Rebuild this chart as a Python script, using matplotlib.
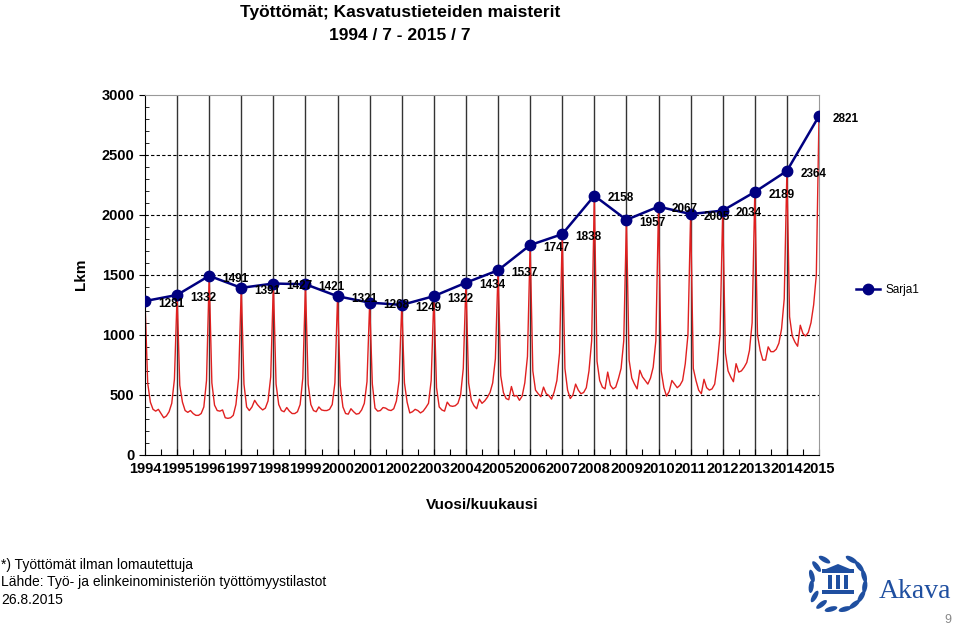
import matplotlib.pyplot as plt
import numpy as np
from matplotlib.patches import Ellipse, Rectangle, Polygon

plt.rcParams['font.family'] = ['Liberation Sans', 'DejaVu Sans']

# July values (blue series, labelled)
vuodet = [str(y) for y in range(1994, 2016)]
heinakuu = [1281, 1332, 1491, 1391, 1427, 1421, 1321, 1268, 1249, 1322, 1434,
            1537, 1747, 1838, 2158, 1957, 2067, 2005, 2034, 2189, 2364, 2821]

# monthly values Aug..Jun for each year between the Julys (red series)
elo_kesa = [
    [600, 440, 380, 365, 380, 345, 310, 325, 360, 430, 630],   # 94-95
    [580, 440, 370, 355, 370, 345, 330, 330, 345, 400, 620],   # 95-96
    [600, 415, 370, 365, 375, 310, 305, 310, 330, 420, 640],   # 96-97
    [590, 400, 370, 400, 455, 420, 395, 375, 390, 450, 650],   # 97-98
    [590, 420, 370, 360, 395, 365, 345, 345, 360, 420, 640],   # 98-99
    [590, 420, 370, 360, 400, 375, 370, 370, 380, 420, 600],   # 99-00
    [580, 400, 345, 340, 385, 360, 340, 345, 375, 430, 610],   # 00-01
    [590, 390, 365, 370, 395, 390, 375, 370, 385, 450, 620],   # 01-02
    [600, 440, 350, 360, 380, 370, 350, 365, 395, 430, 620],   # 02-03
    [560, 400, 375, 365, 440, 410, 405, 410, 430, 500, 720],   # 03-04
    [600, 455, 410, 385, 465, 430, 450, 480, 520, 600, 800],   # 04-05
    [660, 520, 470, 460, 570, 490, 495, 455, 490, 600, 820],   # 05-06
    [700, 540, 510, 485, 565, 510, 495, 465, 525, 620, 850],   # 06-07
    [720, 540, 470, 500, 590, 540, 510, 520, 560, 700, 950],   # 07-08
    [780, 620, 565, 550, 690, 580, 550, 565, 635, 720, 950],   # 08-09
    [790, 640, 590, 550, 705, 650, 620, 590, 640, 730, 950],   # 09-10
    [700, 560, 490, 530, 620, 590, 560, 580, 620, 760, 1000],  # 10-11
    [720, 620, 540, 510, 630, 560, 540, 550, 590, 760, 1000],  # 11-12
    [850, 700, 650, 610, 760, 690, 700, 730, 770, 870, 1100],  # 12-13
    [1000, 870, 790, 790, 900, 860, 860, 880, 930, 1050, 1300],  # 13-14
    [1150, 990, 940, 905, 1080, 1010, 990, 1020, 1100, 1250, 1500],  # 14-15
]

kuukausittain = [heinakuu[0]]
for i, vuosi in enumerate(elo_kesa):
    kuukausittain.extend(vuosi)
    kuukausittain.append(heinakuu[i + 1])

x_kk = np.arange(len(kuukausittain))
x_hk = np.arange(0, len(kuukausittain), 12)

fig = plt.figure(figsize=(9.6, 6.28), dpi=100)
ax = fig.add_axes([145 / 960, 1 - 455 / 628, (819 - 145) / 960, (455 - 94.5) / 628])

for v in range(500, 3000, 500):
    ax.axhline(v, color='black', ls=(0, (3, 2)), lw=0.8, zorder=0)
for m in range(12, 252, 12):
    ax.axvline(m, color='#333333', lw=1, zorder=0)

ax.plot(x_kk, kuukausittain, color='#e02020', lw=1, zorder=2)
ax.plot(x_hk, heinakuu, color='#000080', lw=1.8, marker='o', ms=7.5,
        label='Sarja1', zorder=3)

for xi, v in zip(x_hk, heinakuu):
    ax.annotate(str(v), (xi, v), xytext=(19, -2), textcoords='offset points',
                ha='center', va='center', fontsize=8.5, fontweight='bold', zorder=4)

ax.set_xlim(0, 252)
ax.set_ylim(0, 3000)

ax.set_yticks(range(0, 3001, 500))
ax.set_yticks(range(0, 3001, 100), minor=True)
ax.tick_params(axis='y', which='major', direction='out', length=4, labelsize=10.5)
ax.tick_params(axis='y', which='minor', direction='in', length=3)
for t in ax.get_yticklabels():
    t.set_fontweight('bold')

ax.set_xticks(range(0, 253, 6))
ax.set_xticklabels([vuodet[i // 12] if i % 12 == 0 else '' for i in range(0, 253, 6)],
                   fontweight='bold', fontsize=10.5)
ax.tick_params(axis='x', direction='in', length=4, pad=5)

for s in ['left', 'bottom']:
    ax.spines[s].set_color('black')
for s in ['top', 'right']:
    ax.spines[s].set_color('#999999')

ax.set_ylabel('Lkm', fontsize=11, fontweight='bold', labelpad=10)
ax.set_xlabel('Vuosi/kuukausi', fontsize=11, fontweight='bold', labelpad=16)

fig.legend(loc='center left', bbox_to_anchor=(845 / 960, 1 - 290 / 628),
           frameon=False, fontsize=8.5, handlelength=2.1, handletextpad=0.4)

fig.text(400 / 960, 1 - 13 / 628, 'Työttömät; Kasvatustieteiden maisterit',
         ha='center', va='center', fontsize=12.5, fontweight='bold')
fig.text(400 / 960, 1 - 35 / 628, '1994 / 7 - 2015 / 7',
         ha='center', va='center', fontsize=12.5, fontweight='bold')

fig.text(0.001, 1 - 565 / 628, '*) Työttömät ilman lomautettuja', fontsize=10, va='center')
fig.text(0.001, 1 - 582 / 628, 'Lähde: Työ- ja elinkeinoministeriön työttömyystilastot',
         fontsize=10, va='center')
fig.text(0.001, 1 - 600 / 628, '26.8.2015', fontsize=10, va='center')

# Akava logo
logo = fig.add_axes([0, 0, 1, 1], zorder=-1)
logo.set_xlim(0, 960)
logo.set_ylim(628, 0)
logo.axis('off')
akava = '#1f4fa0'
cx, cy, r = 838, 583, 27
for side in (-1, 1):
    for ang in np.linspace(-75, 60, 7):
        a = np.radians(ang)
        px = cx + side * r * np.cos(a)
        py = cy - r * np.sin(a)
        rot = side * (ang + 90)
        logo.add_patch(Ellipse((px, py), 13, 5, angle=-rot if side > 0 else rot,
                               color=akava, lw=0))
logo.add_patch(Rectangle((822, 569), 32, 4, color=akava, lw=0))
logo.add_patch(Polygon([[826, 569], [850, 569], [838, 564]], color=akava, lw=0))
for bx in (828, 836, 844):
    logo.add_patch(Rectangle((bx, 575), 4, 14, color=akava, lw=0))
logo.add_patch(Rectangle((822, 590), 32, 4, color=akava, lw=0))
fig.text(915 / 960, 1 - 592 / 628, 'Akava', ha='center', va='center',
         fontsize=20, color=akava, family=['Liberation Serif', 'DejaVu Serif'])
fig.text(948 / 960, 1 - 620 / 628, '9', ha='center', va='center', fontsize=9, color='#888888')

fig.savefig('out.png', dpi=100)
